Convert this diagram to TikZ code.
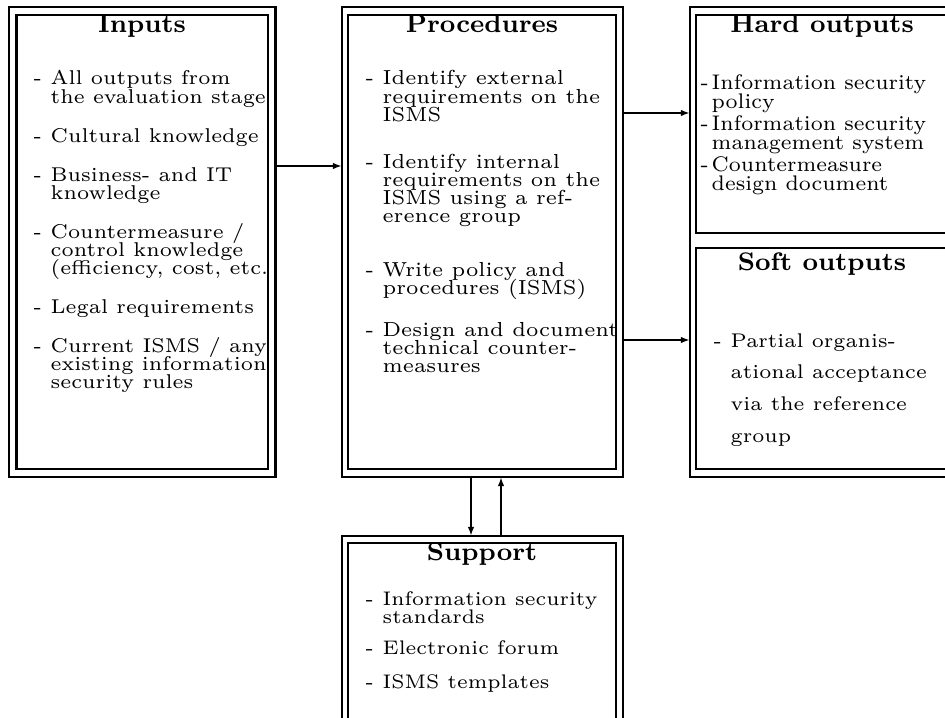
\documentclass[tikz,border=0pt]{standalone}
\usetikzlibrary{arrows.meta,fit}
\newlength\dw
\newcommand\dl{\makebox[\dw][l]{-}}
\newcommand\cl{\hspace*{\dw}}
% list block: #1 dash column, #2 line pitch, #3 lines
\newcommand\lst[3]{\begin{minipage}[t]{200pt}\setlength{\dw}{#1}%
  \setlength{\baselineskip}{#2}\setlength{\lineskiplimit}{-20pt}%
  \setlength{\parindent}{0pt}#3\end{minipage}}
\begin{document}
\begin{tikzpicture}[x=0.30769pt,y=-0.30769pt,
  frame/.style={draw,line width=0.8pt,inner sep=0pt,outer sep=0pt},
  conn/.style={-{Latex[length=2.8pt,width=2pt]},line width=0.6pt},
  heading/.style={anchor=base,inner sep=0pt,font=\fontsize{7.8}{9}\selectfont\bfseries},
  body/.style={anchor=base west,inner sep=0pt,font=\fontsize{6.15}{7}\selectfont}]
\useasboundingbox (0,0) rectangle (945,717);
\clip (0,0) rectangle (945,717);

% outer frames
\node[frame,fit={(9,7)(275.5,477)}] (inOut) {};
\node[frame,fit={(342,7)(623,477)}] (procOut) {};
\node[frame,fit={(690,7)(956,477)}] (outOut) {};
\node[frame,fit={(342,536)(623,730)}] (supOut) {};
% inner frames
\node[frame,fit={(16.5,15)(268,469)}] (inIn) {};
\node[frame,fit={(348,15)(616,469)}] (procIn) {};
\node[frame,fit={(696,15)(948,233)}] (hardIn) {};
\node[frame,fit={(696,248)(948,469)}] (softIn) {};
\node[frame,fit={(348,543)(616,722)}] (supIn) {};

% headings
\node[heading] (inT) at (142,33) {Inputs};
\node[heading] (procT) at (482,33) {Procedures};
\node[heading] (hardT) at (822,33) {Hard outputs};
\node[heading] (softT) at (822,270) {Soft outputs};
\node[heading] (supT) at (482,560) {Support};

% lists
\node[body] (inL) at (33,85) {\lst{5.23pt}{5.54pt}{%
\dl All outputs from\\ \cl the evaluation stage\\[6.46pt]
\dl Cultural knowledge\\[6.46pt]
\dl Business- and IT\\ \cl knowledge\\[6.46pt]
\dl Countermeasure /\\ \cl control knowledge\\ \cl (efficiency, cost, etc.\\[6.46pt]
\dl Legal requirements\\[6.46pt]
\dl Current ISMS / any\\ \cl existing information\\ \cl security rules}};

\node[body,font=\fontsize{6.25}{7}\selectfont] (procL) at (365,85) {\lst{5.23pt}{5.54pt}{%
\dl Identify external\\ \cl requirements on the\\ \cl ISMS\\[9.2pt]
\dl Identify internal\\ \cl requirements on the\\ \cl ISMS using a ref-\\ \cl erence group\\[10.8pt]
\dl Write policy and\\ \cl procedures (ISMS)\\[7.4pt]
\dl Design and document\\ \cl technical counter-\\ \cl measures}};

\node[body,font=\fontsize{6.5}{7}\selectfont] (hardL) at (700,90) {\lst{3.4pt}{5.8pt}{%
\dl Information security\\ \cl policy\\[1pt]
\dl Information security\\ \cl management system\\[1pt]
\dl Countermeasure\\ \cl design document}};

\node[body,font=\fontsize{6.1}{7}\selectfont] (softL) at (713,347) {\lst{5.23pt}{9.75pt}{%
\dl Partial organis-\\ \cl ational acceptance\\ \cl via the reference\\ \cl group}};

\node[body,font=\fontsize{6.05}{7}\selectfont] (supL) at (365,605) {\lst{5.23pt}{5.54pt}{%
\dl Information security\\ \cl standards\\[4.3pt]
\dl Electronic forum\\[4.9pt]
\dl ISMS templates}};

% connectors
\coordinate (yA) at (0,166);
\coordinate (yB) at (0,113);
\coordinate (yC) at (0,340);
\coordinate (xD) at (471,0);
\coordinate (xU) at (501,0);
\draw[conn] (inOut.east |- yA) -- (procOut.west |- yA);
\draw[conn] (procOut.east |- yB) -- (outOut.west |- yB);
\draw[conn] (procOut.east |- yC) -- (outOut.west |- yC);
\draw[conn] (procOut.south -| xD) -- (supOut.north -| xD);
\draw[conn] (supOut.north -| xU) -- (procOut.south -| xU);
\end{tikzpicture}
\end{document}
